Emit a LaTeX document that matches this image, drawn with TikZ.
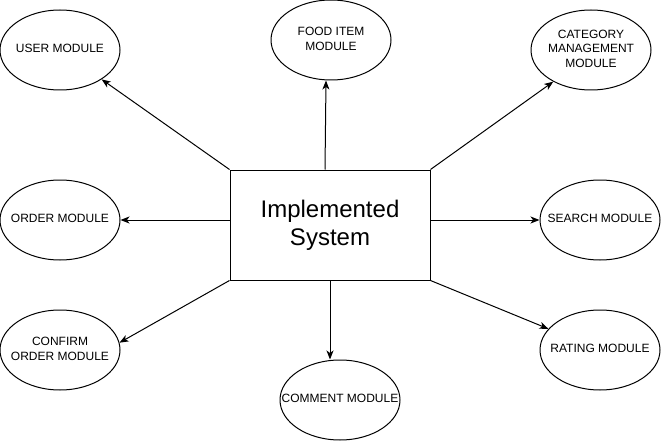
\documentclass[tikz,border=0pt]{standalone}
\usepackage{fontspec}
\setmainfont{Liberation Sans}
\usetikzlibrary{shapes.geometric, arrows.meta}
\newcommand{\modtext}[1]{\makebox[0pt]{\begin{tabular}{@{}c@{}}#1\end{tabular}}}

\begin{document}
\begin{tikzpicture}[x=1pt, y=-1pt, line width=1pt,
    module/.style={ellipse, draw, minimum width=120, minimum height=80, inner sep=0pt, font=\fontsize{12}{14.4}\selectfont},
    system/.style={rectangle, draw, minimum width=200, minimum height=110, align=center, font=\fontsize{24}{27.6}\selectfont},
    conn/.style={-{Stealth[length=9pt, width=7pt, inset=2.5pt]}}]
    \useasboundingbox (0,0) rectangle (661,441);
    \node[system] (sys) at (330,225) {Implemented\\System};
    % modules round the system
    \node[module] (user) at (60,50) {\modtext{USER MODULE}};
    \node[module] (food) at (331,40) {\modtext{FOOD ITEM\\MODULE}};
    \node[module] (cat) at (591,50) {\modtext{CATEGORY\\MANAGEMENT\\MODULE}};
    \node[module] (order) at (60,220) {\modtext{ORDER MODULE}};
    \node[module] (search) at (600,220) {\modtext{SEARCH MODULE}};
    \node[module] (confirm) at (60,350) {\modtext{CONFIRM\\ORDER MODULE}};
    \node[module] (comment) at (340,400) {\modtext{COMMENT MODULE}};
    \node[module] (rating) at (600,350) {\modtext{RATING MODULE}};
    % arrows out of the system
    \draw[conn] (sys.north west) -- (user);
    \draw[conn] ([xshift=-5pt]sys.north) -- ([xshift=-5pt]food.south);
    \draw[conn] (sys.north east) -- (cat.220);
    \draw[conn] (sys.west |- order) -- (order);
    \draw[conn] (sys.east |- search) -- (search);
    \draw[conn] (sys.south west) -- (confirm.7);
    \draw[conn] (sys.south) -- (sys.south |- comment.north);
    \draw[conn] (sys.south east) -- (rating);
\end{tikzpicture}
\end{document}
